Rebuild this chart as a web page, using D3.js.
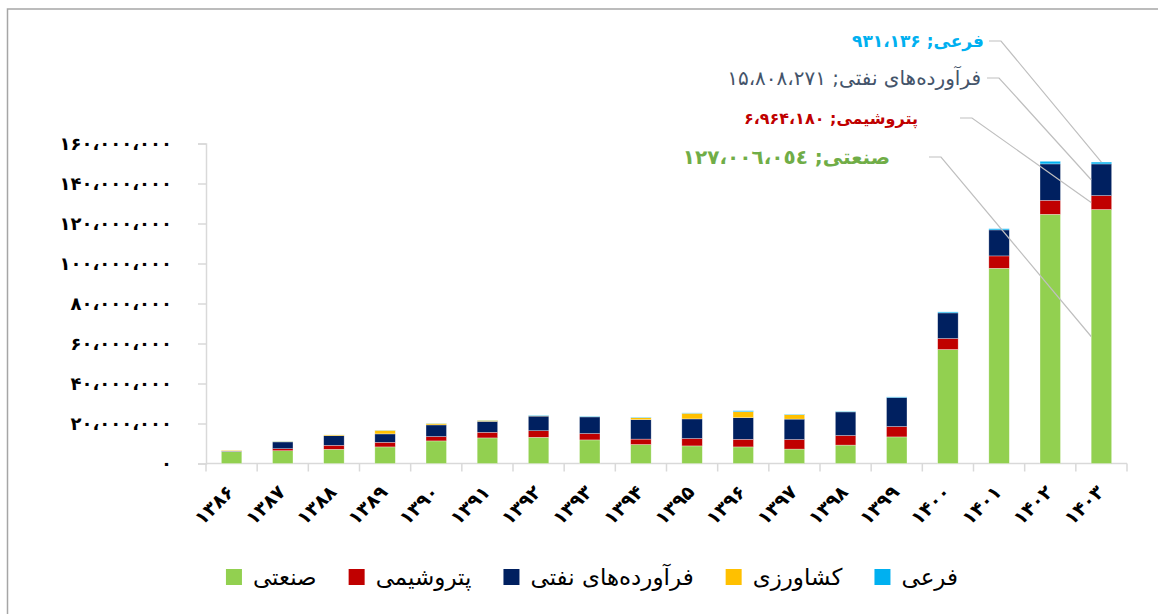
<!DOCTYPE html>
<html>
<head>
<meta charset="utf-8">
<script src="https://cdn.jsdelivr.net/npm/d3@7"></script>
<style>
  body { margin: 0; background: #fff; }
  svg text { font-family: "DejaVu Sans", sans-serif; }
</style>
</head>
<body>
<script>
// years (solar hijri)
const years = ["۱۳۸۶","۱۳۸۷","۱۳۸۸","۱۳۸۹","۱۳۹۰","۱۳۹۱","۱۳۹۲","۱۳۹۳","۱۳۹۴",
               "۱۳۹۵","۱۳۹۶","۱۳۹۷","۱۳۹۸","۱۳۹۹","۱۴۰۰","۱۴۰۱","۱۴۰۲","۱۴۰۳"];

// values in millions
const sanati  = [6.0, 6.4, 7.1, 8.3, 11.3, 12.8, 13.1, 11.8, 9.5, 8.8, 8.3, 7.2, 9.2, 13.3, 57.0, 97.6, 124.6, 127.006054];
const petro   = [0.1, 1.0, 2.0, 2.3, 2.2, 2.8, 3.3, 3.2, 2.7, 3.7, 3.8, 4.8, 4.8, 5.2, 5.5, 6.2, 7.0, 6.96418];
const naft    = [0.2, 3.4, 4.8, 4.2, 5.8, 5.5, 7.3, 8.3, 9.7, 9.8, 10.8, 10.2, 11.8, 14.5, 12.8, 13.0, 18.2, 15.808271];
const keshav  = [0.3, 0.3, 0.5, 1.8, 0.7, 0.5, 0.2, 0.1, 1.0, 2.8, 3.0, 2.2, 0.1, 0, 0, 0, 0, 0];
const farei   = [0, 0.1, 0.1, 0.1, 0.1, 0.1, 0.3, 0.3, 0.3, 0.2, 0.5, 0.3, 0.3, 0.3, 0.5, 0.6, 1.3, 0.931136];

const seriesNames = ["صنعتی", "پتروشیمی", "فرآورده‌های نفتی", "کشاورزی", "فرعی"];
const seriesKeys = ["sanati", "petro", "naft", "keshav", "farei"];
const colors = ["#92d050", "#c00000", "#002060", "#ffc000", "#00b0f0"];

const yTicks = [0, 20, 40, 60, 80, 100, 120, 140, 160];
const yTickLabels = ["۰", "۲۰،۰۰۰،۰۰۰", "۴۰،۰۰۰،۰۰۰", "۶۰،۰۰۰،۰۰۰", "۸۰،۰۰۰،۰۰۰",
  "۱۰۰،۰۰۰،۰۰۰", "۱۲۰،۰۰۰،۰۰۰", "۱۴۰،۰۰۰،۰۰۰", "۱۶۰،۰۰۰،۰۰۰"];

// annotation labels for the last year
const annotations = [
  { key: "farei",  text: "فرعی; ۹۳۱،۱۳۶",             color: "#00b0f0", weight: "bold",   size: 17, x: 984, y: 41,  lx: 989 },
  { key: "naft",   text: "فرآورده‌های نفتی; ۱۵،۸۰۸،۲۷۱", color: "#44546a", weight: "normal", size: 20, x: 981, y: 78,  lx: 987 },
  { key: "petro",  text: "پتروشیمی; ۶،۹۶۴،۱۸۰",         color: "#c00000", weight: "bold",   size: 16, x: 918, y: 118, lx: 960 },
  { key: "sanati", text: "صنعتی; ۱۲۷،۰۰٦،۰٥٤",          color: "#70ad47", weight: "bold",   size: 20, x: 890, y: 157, lx: 929 }
];

const W = 1158, H = 614;
const svg = d3.select("body").append("svg")
  .attr("width", W)
  .attr("height", H);

// outer frame
svg.append("rect")
  .attr("x", 7.5).attr("y", 9)
  .attr("width", 1300).attr("height", 800)
  .attr("fill", "none")
  .attr("stroke", "#a6a6a6")
  .attr("stroke-width", 1.5);

const table = years.map((y, i) => ({
  year: y, sanati: sanati[i], petro: petro[i], naft: naft[i], keshav: keshav[i], farei: farei[i]
}));
const stacked = d3.stack().keys(seriesKeys)(table);

const x = d3.scaleBand().domain(years).range([206, 1127]).paddingInner(0.6).paddingOuter(0.3);
const y = d3.scaleLinear().domain([0, 160]).range([463.5, 143.5]);

// y axis
const yAxis = svg.append("g")
  .attr("transform", "translate(206,0)")
  .call(d3.axisLeft(y).tickValues(yTicks).tickSize(8).tickFormat((d, i) => yTickLabels[i]));
yAxis.select(".domain").attr("stroke", "#d9d9d9").attr("stroke-width", 1.5);
yAxis.selectAll(".tick line").attr("stroke", "#d9d9d9").attr("stroke-width", 1.5);
yAxis.selectAll(".tick text")
  .attr("x", -34)
  .attr("font-size", 18)
  .attr("letter-spacing", 1.2)
  .attr("font-weight", "bold")
  .attr("fill", "#000");

// x axis: ticks on band boundaries
const xAxisG = svg.append("g");
xAxisG.append("line")
  .attr("x1", 206).attr("x2", 1127)
  .attr("y1", y(0)).attr("y2", y(0))
  .attr("stroke", "#d9d9d9").attr("stroke-width", 1.5);
xAxisG.selectAll("line.tk")
  .data(d3.range(years.length + 1))
  .enter().append("line")
    .attr("class", "tk")
    .attr("x1", i => 206 + i * (921 / years.length))
    .attr("x2", i => 206 + i * (921 / years.length))
    .attr("y1", y(0)).attr("y2", y(0) + 8)
    .attr("stroke", "#d9d9d9").attr("stroke-width", 1.5);

xAxisG.selectAll("text")
  .data(years)
  .enter().append("text")
    .attr("transform", d => `translate(${x(d) + x.bandwidth() / 2 - 1},${y(0) + 25}) rotate(-45)`)
    .attr("text-anchor", "end")
    .attr("dy", "0.35em")
    .attr("font-size", 19)
    .attr("font-weight", "bold")
    .attr("fill", "#000")
    .text(d => d);

// bars
svg.selectAll("g.series")
  .data(stacked)
  .enter().append("g")
    .attr("class", "series")
    .attr("fill", (d, i) => colors[i])
  .selectAll("rect")
  .data(d => d)
  .enter().append("rect")
    .attr("x", d => x(d.data.year))
    .attr("width", x.bandwidth())
    .attr("y", d => y(d[1]))
    .attr("height", d => Math.max(0, y(d[0]) - y(d[1])))
    .attr("stroke", "#ffffff")
    .attr("stroke-opacity", 0.5)
    .attr("stroke-width", 0.6);

// annotations with leader lines
const last = years.length - 1;
const lastYear = years[last];
annotations.forEach(a => {
  const s = stacked[seriesKeys.indexOf(a.key)][last];
  let ex, ey;
  if (a.key === "farei") {
    ex = x(lastYear) + x.bandwidth() / 2;
    ey = y(s[1]);
  } else {
    ex = x(lastYear);
    ey = (y(s[0]) + y(s[1])) / 2;
  }
  svg.append("polyline")
    .attr("points", `${a.lx},${a.y} ${a.lx + 12},${a.y} ${ex},${ey}`)
    .attr("fill", "none")
    .attr("stroke", "#bfbfbf")
    .attr("stroke-width", 1.2);
  svg.append("text")
    .attr("x", a.x).attr("y", a.y)
    .attr("dy", "0.35em")
    .attr("direction", "rtl")
    .attr("text-anchor", "start")
    .attr("font-size", a.size)
    .attr("font-weight", a.weight)
    .attr("fill", a.color)
    .text(a.text);
});

// legend
const legend = svg.append("g");
let lx = 0;
seriesNames.forEach((name, i) => {
  const g = legend.append("g").attr("transform", `translate(${lx},0)`);
  g.append("rect").attr("x", 0).attr("y", 0).attr("width", 16).attr("height", 16).attr("fill", colors[i]);
  const t = g.append("text")
    .attr("x", 27).attr("y", 8).attr("dy", "0.35em")
    .attr("font-size", 23)
    .attr("fill", "#000")
    .text(name);
  const w = t.node().getComputedTextLength();
  lx += 27 + w + 32;
});
const legendW = lx - 32;
legend.attr("transform", `translate(${592 - legendW / 2},569)`);
</script>
</body>
</html>
